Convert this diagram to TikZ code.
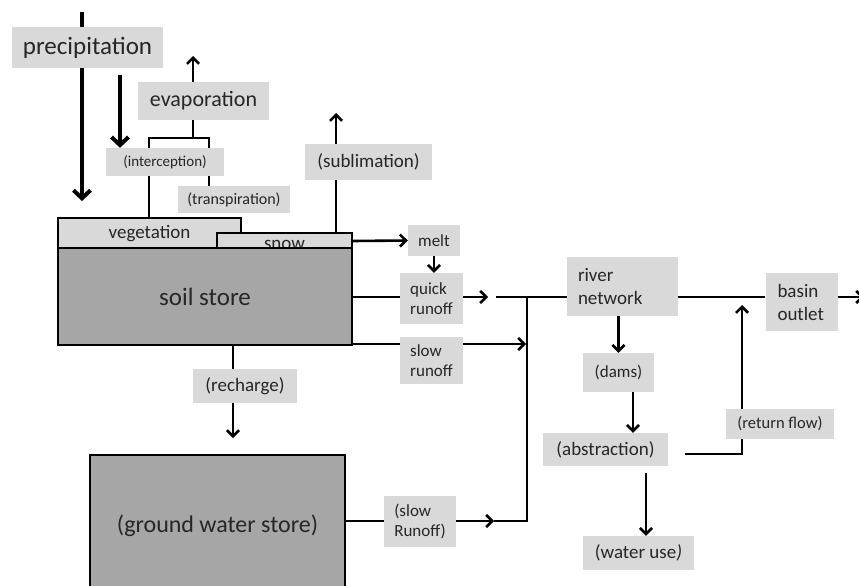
\documentclass[tikz,border=0pt]{standalone}
\usepackage{fontspec}
\setmainfont{Carlito}
\usetikzlibrary{arrows.meta,backgrounds}
\definecolor{tagfill}{HTML}{D9D9D9}
\definecolor{storefill}{HTML}{A6A6A6}
\definecolor{ink}{HTML}{262626}

\begin{document}
\begin{tikzpicture}[x=1pt, y=-1pt,
 tag/.style={fill=tagfill, text=ink, inner sep=0pt},
 store/.style={draw, line width=2pt, fill=storefill, text=ink, inner sep=0pt},
 cover/.style={store, fill=tagfill},
 sz/.style 2 args={minimum width=#1pt, minimum height=#2pt},
 fs/.style 2 args={font=\fontsize{#1}{#2}\selectfont},
 line/.style={line width=2.6pt},
 flow/.style={line, -{Straight Barb[length=6pt, width=12pt]}},
 rain/.style={line width=4pt, -{Straight Barb[length=8pt, width=17pt]}}]

\useasboundingbox (0,0) rectangle (859,586);

% boxes
\node[tag, sz={151}{41}, fs={25}{30}] (precip) at (87.5,47.5) {precipitation};
\node[tag, sz={131}{38}, fs={22}{26}] (evap) at (203.5,101) {evaporation};
\node[tag, sz={118}{28}, fs={15}{18}] (intercep) at (165,162) {(interception)};
\node[tag, sz={112}{27}, fs={16}{19}] (transp) at (234,199.5) {(transpiration)};
\node[tag, sz={127}{36}, fs={19}{23}] (sublim) at (368.5,162) {(sublimation)};
\node[cover, sz={183}{32}, fs={19}{23}] (veg) at (149.5,234) {vegetation};
\node[cover, sz={135}{16}, fs={19}{23}] (snow) at (284.5,241) {\raisebox{-8pt}[0pt][0pt]{snow}};
\node[store, sz={294}{97}, fs={25}{30}] (soil) at (205,296.5) {soil store};
\node[tag, sz={52}{31}, fs={17}{20}] (melt) at (434,240.5) {melt};
\node[tag, sz={63}{51}, fs={17}{20}, align=left] (quick) at (431.5,298.5) {quick\\runoff};
\node[tag, sz={63}{47}, fs={17}{20}, align=left] (slow) at (431.5,360.5) {slow\\runoff};
\node[tag, sz={111}{59}, fs={19}{23}, align=left, inner xsep=11pt, text width=89pt] (river) at (622.5,286.5) {river\\network};
\node[tag, sz={72}{58}, fs={19}{23}, align=left, inner xsep=12pt, text width=48pt] (basin) at (801.5,302) {basin\\outlet};
\node[tag, sz={71}{39}, fs={17}{20}] (dams) at (618.5,372.5) {(dams)};
\node[tag, sz={125}{33}, fs={19}{23}] (abstr) at (605.5,449.5) {(abstraction)};
\node[tag, sz={108}{30}, fs={16.5}{20}] (retflow) at (780,424) {(return flow)};
\node[tag, sz={111}{34}, fs={19}{23}] (wateruse) at (638.5,553) {(water use\textit{)}};
\node[tag, sz={72}{51}, fs={17}{20}, align=left] (slowgw) at (420,521.5) {(slow\\Runoff)};
\node[tag, sz={104}{34}, fs={19}{23}] (recharge) at (245,386) {(recharge)};
\node[store, sz={255}{142}, fs={24}{29}] (gw) at (217.5,526) {(ground water store)};

% free ends and junctions
\coordinate (ptop) at (82,12);
\coordinate (pend) at (82,201);
\coordinate (itop) at (120,75);
\coordinate (evtop) at (193,56);
\coordinate (bl) at (149,138);
\coordinate (br) at (209,138);
\coordinate (sbtop) at (336,113);
\coordinate (qa) at (488,297);
\coordinate (qb) at (496,297);
\coordinate (jn) at (527,297);
\coordinate (sj) at (526,344);
\coordinate (ga) at (494,521);
\coordinate (gj) at (527,521);
\coordinate (out) at (864,297);
\coordinate (da) at (633,392);
\coordinate (wa) at (646,473);
\coordinate (ra) at (685,454);
\coordinate (rb) at (742,454);
\coordinate (rt) at (742,305);
\coordinate (rc) at (233,438);

\begin{scope}[on background layer]
\fill[white] (0,0) rectangle (859,586);
\draw[rain] (ptop) -- (pend);
\draw[rain] (itop) -- (itop |- intercep.north);
\draw[flow] (evap.north -| evtop) -- (evtop);
\draw[line] (evap.south -| evtop) -- (bl -| evtop);
\draw[line] (veg.north -| bl) -- (bl) -- (br) -- (transp.north -| br);
\draw[flow] (snow.north -| sbtop) -- (sbtop);
\draw[flow] (snow.east) -- (melt.west);
\draw[flow] (melt.south) -- (melt.south |- quick.north);
\draw[line] (soil.east |- qa) -- (quick.west |- qa);
\draw[flow] (quick.east |- qa) -- (qa);
\draw[line] (qb) -- (river.west |- qb);
\draw[line] (river.east |- qb) -- (basin.west |- qb);
\draw[flow] (basin.east |- qb) -- (out);
\draw[line] (soil.east |- sj) -- (slow.west |- sj);
\draw[flow] (slow.east |- sj) -- (sj);
\draw[line] (jn) -- (gj) -- (ga);
\draw[line] (gw.east |- ga) -- (slowgw.west |- ga);
\draw[flow] (slowgw.east |- ga) -- (ga);
\draw[flow] (river.south -| dams.north) -- (dams.north);
\draw[flow] (da) -- (da |- abstr.north);
\draw[flow] (wa) -- (wa |- wateruse.north);
\draw[flow] (ra) -- (rb) -- (rt);
\draw[flow] (soil.south -| rc) -- (rc);
\end{scope}
\end{tikzpicture}
\end{document}
